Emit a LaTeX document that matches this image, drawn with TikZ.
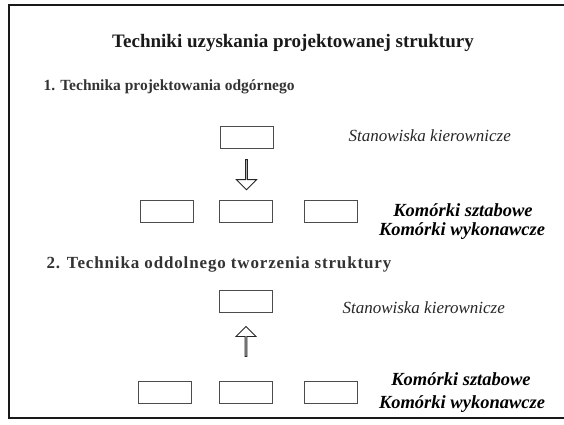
\documentclass[tikz,border=0pt]{standalone}
\usepackage{fontspec}
\setmainfont{Liberation Serif}
\usetikzlibrary{calc,shapes.arrows}

\tikzset{
  cell/.style={draw=black!70, line width=0.8pt, minimum width=53pt, minimum height=22pt, inner sep=0pt},
  blockarrow/.style={single arrow, draw=black!85, line width=0.9pt, minimum height=30pt,
    minimum width=20pt, single arrow head extend=5pt, inner sep=0pt},
  titletext/.style={font=\fontsize{19}{22}\selectfont\bfseries, text=black!90},
  headtext/.style={font=\fontsize{15.5}{18}\selectfont\bfseries, text=black!80, anchor=west},
  posttext/.style={font=\fontsize{17}{20}\selectfont\itshape, text=black!85, anchor=west},
  unittext/.style={font=\fontsize{18.5}{21}\selectfont\bfseries\itshape, text=black, inner sep=0pt}
}

\begin{document}
\begin{tikzpicture}[x=1pt,y=-1pt]
			%%%%% START %%%%%
			\useasboundingbox (0,0) rectangle (564,425);
			
			\draw[line width=2.2pt, color=black!90] (566,5) -- (9,5) -- (9,418) -- (566,418);
			
			\node[titletext] (title) at (293,43) {Techniki uzyskania projektowanej struktury};
			
			% odgorne
			\node[headtext] (head1) at (40,87) {1. Technika projektowania odgórnego};
			\node[cell] (top1) at (247,137) {};
			\node[posttext] (post1) at (345,136) {Stanowiska kierownicze};
			\node[cell] (left1) at (166.5,211.5) {};
			\node[cell] (mid1) at (246,211.5) {};
			\node[cell] (right1) at (330.5,211.5) {};
			\node[unittext] (staff1) at (463,210) {Komórki sztabowe};
			\node[unittext] (line1) at (462,231) {Komórki wykonawcze};
			\node[blockarrow, shape border rotate=270] (arr1) at ($(top1.south)!0.5!(mid1.north)$) {};
			
			% oddolne
			\node[headtext, font=\fontsize{17}{20}\selectfont\bfseries\addfontfeatures{LetterSpace=5}] (head2) at (43,264) {2. Technika oddolnego tworzenia struktury};
			\node[cell] (top2) at (246,301) {};
			\node[posttext] (post2) at (339,308) {Stanowiska kierownicze};
			\node[cell] (left2) at (165,392.5) {};
			\node[cell] (mid2) at (246,392.5) {};
			\node[cell] (right2) at (330.5,392.5) {};
			\node[unittext] (staff2) at (461,379) {Komórki sztabowe};
			\node[unittext] (line2) at (462,404) {Komórki wykonawcze};
			\node[blockarrow, shape border rotate=90] (arr2) at ($(top2.south)!0.43!(mid2.north)$) {};
			
			%%%%% END %%%%%
\end{tikzpicture}
\end{document}
